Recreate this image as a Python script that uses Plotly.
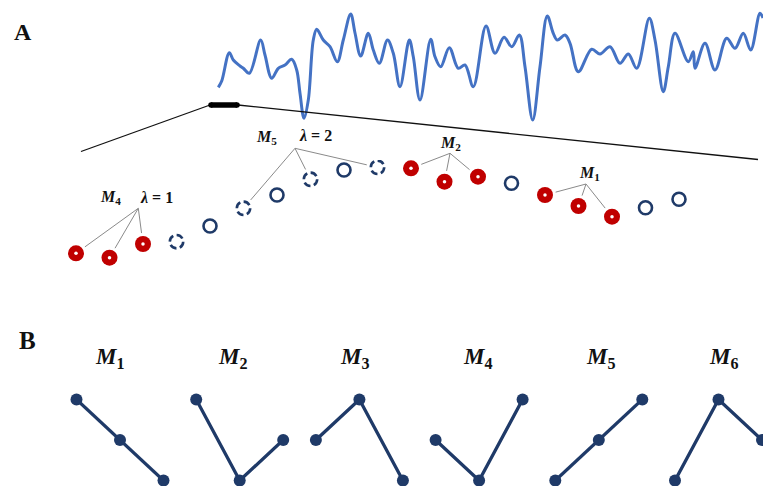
import plotly.graph_objects as go

W, H = 763, 486
NAVY = "#1f3a68"
RED = "#c00000"
BLUE = "#4472c4"
SERIF = "Liberation Serif, Times New Roman, serif"

# ---------------- data ----------------
# Panel A: raw signal (time, amplitude)
signal_t = [1.3, 4.7, 12.3, 16.3, 23, 26.3, 32.3, 43.7, 48, 54.7, 61.3, 68, 74.7, 79.7, 83, 87,
            91.3, 96.3, 99.7, 106.3, 113, 120.3, 126.3, 133.7, 138, 143.7, 151.3, 156.3, 162.3,
            170.5, 176.3, 183, 192.3, 196.3, 203, 213.7, 218, 223.7, 232.3, 241.3, 248, 256.3,
            269, 278, 287, 294.7, 302.3, 308, 315.7, 323, 330.3, 336.3, 340.3, 348, 353, 361.3,
            374.7, 383, 393, 403, 411.3, 419.7, 432.3, 438, 446.3, 451.3, 458, 471.3, 476.3,
            478, 488, 498, 509.7, 518, 526.3, 533.7, 543, 546]
signal_amp = [42.7, 49, 77.3, 70, 64, 61.7, 56.7, 90, 75, 51.7, 61.7, 65, 70.7, 60, 36.7, 11.7,
              30, 90, 100.7, 90, 83.3, 68.3, 90, 116, 97, 74, 96.7, 80, 66.7,
              90, 76.7, 43.3, 90, 73.3, 30, 90.7, 73.3, 63.3, 82.3, 61.7, 65, 43.3,
              104, 76.7, 92.7, 83.3, 95, 63.3, 10, 63.3, 114, 96.7, 90, 95, 86.7, 58.3,
              80.7, 76, 83.3, 66.7, 76, 61.7, 111.7, 90, 38.3, 63.3, 96.7, 68.3, 78.3,
              61.7, 86.7, 60, 91.7, 81.7, 96.7, 80, 116.7, 112]

# Panel A: embedded sequence values and their role
seq_values = [6.7, 2.3, 16, 18.3, 34, 51.7, 65, 80.7, 90, 92.7,
              91.7, 78.3, 83.3, 76.7, 65, 54, 43.3, 52.3, 60.7]
seq_kind = ["red", "red", "red", "dash", "open", "dash", "open", "dash", "open", "dash",
            "red", "red", "red", "open", "red", "red", "red", "open", "open"]

# Panel A: motif groups (motif number, lag, member indices)
group_motif = [4, 5, 2, 1]
group_lambda = [1, 2, None, None]
group_members = [[0, 1, 2], [5, 7, 9], [10, 11, 12], [14, 15, 16]]

# Panel B: ordinal motifs (rank of each of the three samples)
motif_names = ["1", "2", "3", "4", "5", "6"]
motif_patterns = [[3, 2, 1], [3, 1, 2], [2, 3, 1], [2, 1, 3], [1, 2, 3], [1, 3, 2]]

# ---------------- layout geometry (pixels) ----------------
SEQ_X0, SEQ_DX, SEQ_Y0 = 76, 33.5, 260          # index 0 -> x px, value 0 -> y px (1 unit = 1 px)
group_label_px = [(110, 197), (266, 137), (450, 143), (589, 173)]
group_lambda_px = [(156.5, 197), (315, 135), None, None]
group_apex_px = [(138.3, 208.3), (295, 148.3), (450, 153.3), (586, 184)]
motif_base_px = [76.5 + 119.7 * j for j in range(6)]
motif_title_px = [110, 233, 355, 478, 601, 724]

fig = go.Figure()

lay = dict(
    width=W, height=H, margin=dict(l=0, r=0, t=0, b=0),
    paper_bgcolor="white", plot_bgcolor="rgba(0,0,0,0)", showlegend=False,
    xaxis4=dict(domain=[0, 1], range=[0, W], visible=False, fixedrange=True, anchor="y4"),
    yaxis4=dict(domain=[0, 1], range=[H, 0], visible=False, anchor="x4", fixedrange=True),
)

# signal axis
lay["xaxis2"] = dict(domain=[217 / W, 1], range=[0, 546], visible=False, anchor="y2")
lay["yaxis2"] = dict(domain=[(H - 130) / H, (H - 5) / H], range=[0, 125], visible=False, anchor="x2")
# sequence axis
lay["xaxis3"] = dict(domain=[SEQ_X0 / W, (SEQ_X0 + 18 * SEQ_DX) / W], range=[0, 18], visible=False,
                     anchor="y3")
lay["yaxis3"] = dict(domain=[(H - SEQ_Y0) / H, (H - SEQ_Y0 + 100) / H], range=[0, 100],
                     visible=False, anchor="x3")

fig.add_trace(go.Scatter(x=signal_t, y=signal_amp, xaxis="x2", yaxis="y2", mode="lines",
                         line=dict(color=BLUE, width=3, shape="spline", smoothing=1.0),
                         cliponaxis=False, hoverinfo="skip"))

# zoom lines (pixel overlay)
fig.add_trace(go.Scatter(x=[81, 210, None, 238, 758], y=[151.5, 105, None, 105, 159.5],
                         xaxis="x4", yaxis="y4", mode="lines",
                         line=dict(color="#111111", width=1.3), cliponaxis=False, hoverinfo="skip"))
fig.add_trace(go.Scatter(x=[211, 237], y=[105, 105], xaxis="x4", yaxis="y4", mode="lines+markers",
                         line=dict(color="#000000", width=5.5),
                         marker=dict(size=5.5, color="#000000"), cliponaxis=False, hoverinfo="skip"))


def seq_to_px(i, v):
    return SEQ_X0 + SEQ_DX * i, SEQ_Y0 - v


# connector lines (drawn on the full-canvas pixel overlay so they are not clipped)
cx, cy = [], []
for g, members in enumerate(group_members):
    ax, ay = group_apex_px[g]
    for i in members:
        px, py = seq_to_px(i, seq_values[i])
        dx, dy = ax - px, ay - py
        d = (dx * dx + dy * dy) ** 0.5
        ex, ey = px + 11 * dx / d, py + 11 * dy / d
        cx += [ax, ex, None]
        cy += [ay, ey, None]
fig.add_trace(go.Scatter(x=cx, y=cy, xaxis="x4", yaxis="y4", mode="lines",
                         line=dict(color="#8a8a8a", width=1), cliponaxis=False, hoverinfo="skip"))

red_i = [i for i, k in enumerate(seq_kind) if k == "red"]
open_i = [i for i, k in enumerate(seq_kind) if k == "open"]
dash_i = [i for i, k in enumerate(seq_kind) if k == "dash"]

fig.add_trace(go.Scatter(x=open_i, y=[seq_values[i] for i in open_i], xaxis="x3", yaxis="y3",
                         mode="markers", cliponaxis=False, hoverinfo="skip",
                         marker=dict(symbol="circle-open", size=13, color=NAVY, line=dict(width=2.6))))
fig.add_trace(go.Scatter(x=red_i, y=[seq_values[i] for i in red_i], xaxis="x3", yaxis="y3",
                         mode="markers", cliponaxis=False, hoverinfo="skip",
                         marker=dict(symbol="circle", size=16, color=RED, line=dict(width=0))))
fig.add_trace(go.Scatter(x=red_i, y=[seq_values[i] for i in red_i], xaxis="x3", yaxis="y3",
                         mode="markers", cliponaxis=False, hoverinfo="skip",
                         marker=dict(symbol="circle", size=3.5, color="white", line=dict(width=0))))

shapes = []
for i in dash_i:
    r = 6.7
    shapes.append(dict(type="circle", xref="x3", yref="y3", xsizemode="pixel", ysizemode="pixel",
                       xanchor=i, yanchor=seq_values[i], x0=-r, x1=r, y0=-r, y1=r,
                       line=dict(color=NAVY, width=2.6, dash="7px,3.5px")))

annotations = []


def label(x, y, text, size):
    annotations.append(dict(x=x, y=y, xref="x4", yref="y4", text=text, showarrow=False,
                            xanchor="center", yanchor="middle",
                            font=dict(family=SERIF, size=size, color="#111111")))


label(23, 31.5, "<b>A</b>", 24)
label(27, 340, "<b>B</b>", 25)

for g in range(len(group_members)):
    lx, ly = group_label_px[g]
    label(lx, ly, "<b><i>M</i><sub>%d</sub></b>" % group_motif[g], 16)
    if group_lambda[g] is not None:
        mx, my = group_lambda_px[g]
        label(mx, my, "<b><i>λ</i> = %d</b>" % group_lambda[g], 16)

# Panel B motifs
for j, pat in enumerate(motif_patterns):
    n = 5 + j
    base = motif_base_px[j]
    lay["xaxis%d" % n] = dict(domain=[base / W, min(1.0, (base + 87) / W)], range=[0, 2], visible=False,
                              anchor="y%d" % n)
    lay["yaxis%d" % n] = dict(domain=[(H - 480.5) / H, (H - 399.5) / H], range=[1, 3], visible=False,
                              anchor="x%d" % n)
    fig.add_trace(go.Scatter(x=[0, 1, 2], y=pat, xaxis="x%d" % n, yaxis="y%d" % n,
                             mode="lines+markers", cliponaxis=False, hoverinfo="skip",
                             line=dict(color=NAVY, width=3.3),
                             marker=dict(size=12, color=NAVY)))
    label(motif_title_px[j], 358, "<b><i>M</i><sub>%s</sub></b>" % motif_names[j], 23)

lay["shapes"] = shapes
lay["annotations"] = annotations
fig.update_layout(**lay)
fig.write_html("out.html")
